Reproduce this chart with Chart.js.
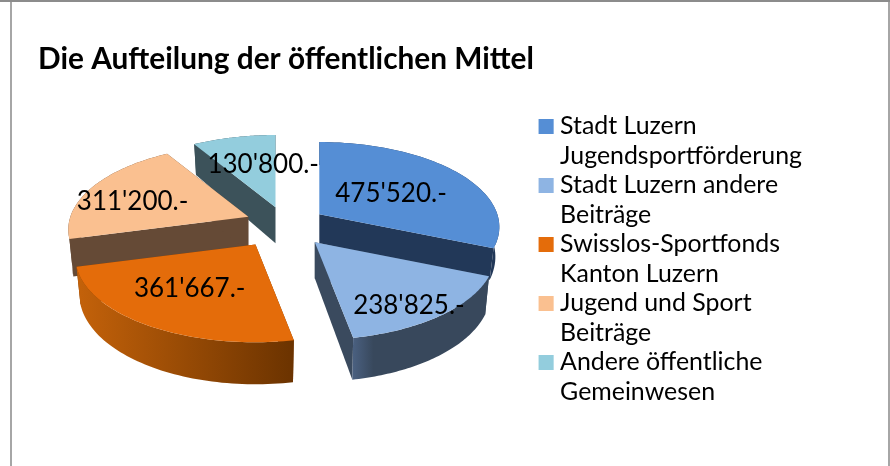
<!DOCTYPE html>
<html><head><meta charset="utf-8">
<script src="https://cdn.jsdelivr.net/npm/chart.js@4"></script>
<style>
html,body{margin:0;padding:0;background:#fff;width:890px;height:466px;overflow:hidden}
#top{position:absolute;left:0;top:0;width:890px;height:2px;background:#8c8c8c}
#side{position:absolute;left:10px;top:0;width:876px;height:466px;border-left:2px solid #a6a6a6;border-right:2px solid #a6a6a6}
#wrap{position:absolute;left:0;top:0;width:890px;height:466px}
</style></head><body>
<div id="side"></div><div id="top"></div>
<div id="wrap"><canvas id="c" width="890" height="466"></canvas></div>
<script>
const titleText = "Die Aufteilung der öffentlichen Mittel";
const categories = [
  ["Stadt Luzern","Jugendsportförderung"],
  ["Stadt Luzern andere","Beiträge"],
  ["Swisslos-Sportfonds","Kanton Luzern"],
  ["Jugend und Sport","Beiträge"],
  ["Andere öffentliche","Gemeinwesen"]
];
const values = [475520, 238825, 361667, 311200, 130800];
const valueLabels = ["475'520.-","238'825.-","361'667.-","311'200.-","130'800.-"];
const topColors = ["#558ED5","#8EB4E3","#E46C0A","#FAC090","#93CDDD"];
const faceColors = ["#223858","#3A4A5E","#7A3A05","#654A36","#3C525A"];
const rimLeft = ["#223858","#4A6080","#C4620A","#654A36","#3C525A"];
const rimRight = ["#223858","#38485C","#6B3300","#654A36","#3C525A"];
const rimStop = [1,0.15,1,1,1];
const drawOrder = [4,0,3,1,2];
const labelShift = [[-13,5.5],[22,22],[-4,-2],[-20,3],[14,2]];
const apexNudge = [[-1,-1],[2,-1],[-4,0],[5,-2],[3,0]];
const sliceDepth = [29,36,36,36,36];

const view = {cxFromLeft:246, cyFromTop:112.5, rx:178, ry:83, persp:0.15, depthPersp:6, inset:0.022, burst:0.25};
const proj = (U,V) => { const d = 1 - view.persp*V; return [view.rx*U/d, view.ry*V/d]; };

const pie3d = {
  id:'pie3d',
  beforeDatasetsDraw(chart){
    const ctx = chart.ctx, arcs = chart.getDatasetMeta(0).data;
    const cx = chart.chartArea.left + view.cxFromLeft, cy = chart.chartArea.top + view.cyFromTop;
    const apex = (a,i) => {
      const m=(a.startAngle+a.endAngle)/2, ap=proj(view.burst*Math.cos(m),view.burst*Math.sin(m));
      return [cx+ap[0]+apexNudge[i][0], cy+ap[1]+apexNudge[i][1]];
    };
    for (const i of drawOrder){
      const a = arcs[i], s = a.startAngle, e = a.endAngle;
      const [ax,ay] = apex(a,i);
      const steps = 60, rim = [], dp = sliceDepth[i];
      for (let k=0;k<=steps;k++){
        const t = s+(e-s)*k/steps, v = Math.sin(t), p = proj(Math.cos(t), v);
        rim.push({x:ax+p[0], y:ay+p[1], bx:ax+p[0]*(1-view.inset), by:ay+p[1]+dp+view.depthPersp*v});
      }
      const quad = (r) => {
        ctx.beginPath(); ctx.moveTo(ax,ay); ctx.lineTo(r.x,r.y); ctx.lineTo(r.bx,r.by); ctx.lineTo(ax,ay+dp); ctx.closePath();
        ctx.fillStyle = faceColors[i]; ctx.fill();
      };
      quad(rim[0]); quad(rim[steps]);
      const xs = rim.map(r=>r.x), x0 = Math.min(...xs), x1 = Math.max(...xs);
      const g = ctx.createLinearGradient(x0,0,x1,0);
      g.addColorStop(0,rimLeft[i]); g.addColorStop(rimStop[i],rimRight[i]);
      ctx.beginPath();
      rim.forEach((r,k)=> k? ctx.lineTo(r.x,r.y):ctx.moveTo(r.x,r.y));
      for (let k=steps;k>=0;k--) ctx.lineTo(rim[k].bx,rim[k].by);
      ctx.closePath(); ctx.fillStyle = g; ctx.fill();
      ctx.beginPath(); ctx.moveTo(ax,ay);
      rim.forEach(r=>ctx.lineTo(r.x,r.y));
      ctx.closePath(); ctx.fillStyle = topColors[i]; ctx.fill();
    }
    ctx.save();
    ctx.font = "26px Lato"; ctx.fillStyle="#000"; ctx.textAlign="center"; ctx.textBaseline="middle";
    arcs.forEach((a,i)=>{
      const m=(a.startAngle+a.endAngle)/2;
      const [ax,ay]=apex(a,i), p=proj(0.6*Math.cos(m),0.6*Math.sin(m));
      ctx.fillText(valueLabels[i],ax+p[0]+labelShift[i][0],ay+p[1]+labelShift[i][1]);
    });
    chart.legend.legendHitBoxes.forEach((h,i)=>{
      ctx.fillStyle=topColors[i];
      ctx.fillRect(h.left,h.top+5,15,15);
    });
    ctx.restore();
    return false;
  }
};

new Chart(document.getElementById('c'),{
  type:'pie',
  data:{labels:categories,datasets:[{data:values,backgroundColor:topColors,borderWidth:0,offset:31}]},
  plugins:[pie3d],
  options:{
    responsive:false,animation:false,rotation:0,
    layout:{padding:{left:38,right:78,top:38,bottom:14}},
    plugins:{
      tooltip:{enabled:false},
      title:{display:true,text:titleText,align:'start',color:'#000',
        font:{family:'Lato',size:29.8,weight:'bold',lineHeight:'34px'},padding:{top:4,bottom:38}},
      legend:{position:'right',align:'start',fullSize:false,
        labels:{boxWidth:9,boxHeight:15,padding:0,color:'#000',
          font:{family:'Lato',size:24.9,lineHeight:'29.5px'}}}
    }
  }
});
</script></body></html>
